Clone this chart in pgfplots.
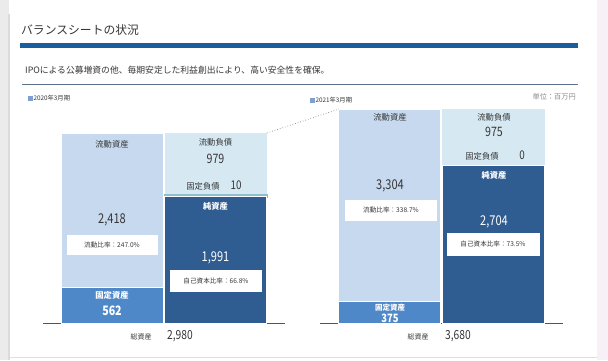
\documentclass[border=0pt]{standalone}
\usepackage{pgfplots}
\pgfplotsset{compat=1.18}
\usepackage{fontspec}
\setmainfont{Noto Sans CJK JP}
\newfontfamily\numfont{Noto Sans CJK JP}[FakeStretch=0.82]
\definecolor{cA}{HTML}{C6D9EF}
\definecolor{fA}{HTML}{4F88C9}
\definecolor{cL}{HTML}{D6E9F3}
\definecolor{fL}{HTML}{8DBFCF}
\definecolor{nA}{HTML}{2F5D91}
\definecolor{barC}{HTML}{1B5E9E}
\definecolor{txt}{HTML}{363636}
\definecolor{lineC}{HTML}{5A6F8A}
\definecolor{legC}{HTML}{7F9FD0}
\definecolor{baseC}{HTML}{555555}
\newcommand{\fs}[1]{\fontsize{#1bp}{#1bp}\selectfont}
\begin{document}
\begin{tikzpicture}[x=1bp,y=1bp]
\path[use as bounding box] (0,0) rectangle (608,360);
\fill[white] (0,0) rectangle (608,360);
\fill[black!8] (0,0) rectangle (9,360);
\fill[black!14] (8,0) rectangle (10,346);
\fill[violet!6] (597,0) rectangle (608,360);
\draw[black!12, line width=0.8bp] (10,3) -- (597,3);
% header
\node[anchor=west, text=txt, inner sep=0] at (21,330) {\fs{11.8}バランスシートの状況};
\fill[barC] (20,312.4) rectangle (578,316.6);
\node[anchor=west, text=txt, inner sep=0] at (25,290) {\fs{8.8}IPOによる公募増資の他、毎期安定した利益創出により、高い安全性を確保。};
\draw[lineC, line width=0.8bp] (22,276) -- (578,276);
\fill[legC] (28,259.5) rectangle (33,264.5);
\node[anchor=west, text=txt, inner sep=0] at (33.5,262) {\fs{6.3}2020年3月期};
\fill[legC] (310,257.5) rectangle (315,262.5);
\node[anchor=west, text=txt, inner sep=0] at (315.5,260) {\fs{6.3}2021年3月期};
\node[anchor=east, text=black!45, inner sep=0] at (576,263) {\fs{7.2}単位：百万円};
% 2020
\begin{axis}[at={(43bp,37bp)}, anchor=south west, scale only axis, width=242bp, height=190bp,
  xmin=-0.67, xmax=1.67, ymin=0, ymax=2980, hide axis, clip=false,
  ybar stacked, bar width=0.985]
\addplot[fill=fA, draw=white, line width=0.8bp] coordinates {(0,562) (1,0)};
\addplot[fill=cA, draw=white, line width=0.8bp] coordinates {(0,2418) (1,0)};
\addplot[fill=nA, draw=white, line width=0.8bp] coordinates {(0,0) (1,1991)};
\addplot[fill=fL, draw=fL, line width=3.5bp] coordinates {(0,0) (1,10)};
\addplot[fill=cL, draw=none] coordinates {(0,0) (1,979)};
\draw[baseC, line width=0.8bp] (rel axis cs:0,0) -- (rel axis cs:1,0);
\end{axis}
% 2021
\begin{axis}[at={(320bp,37bp)}, anchor=south west, scale only axis, width=243bp, height=214bp,
  xmin=-0.67, xmax=1.67, ymin=0, ymax=3680, hide axis, clip=false,
  ybar stacked, bar width=0.985]
\addplot[fill=fA, draw=white, line width=0.8bp] coordinates {(0,375) (1,0)};
\addplot[fill=cA, draw=white, line width=0.8bp] coordinates {(0,3304) (1,0)};
\addplot[fill=nA, draw=white, line width=0.8bp] coordinates {(0,0) (1,2704)};
\addplot[fill=fL, draw=white, line width=0.8bp] coordinates {(0,0) (1,0)};
\addplot[fill=cL, draw=none] coordinates {(0,0) (1,975)};
\draw[baseC, line width=0.8bp] (rel axis cs:0,0) -- (rel axis cs:1,0);
\end{axis}
\draw[black!45, dotted, line width=0.7bp] (267,227) -- (339,251);
% 2020 labels
\node[text=txt] at (112,216) {\fs{8.3}流動資産};
\node[text=txt] at (112,140) {\fs{13.5}\numfont 2,418};
\node[fill=white, text=txt, minimum width=91bp, minimum height=20bp, inner sep=0] at (112,115) {\fs{6.6}流動比率：247.0\%};
\node[text=white] at (112,65) {\fs{8.3}\bfseries 固定資産};
\node[text=white] at (112,49) {\fs{13}\numfont\bfseries 562};
\node[text=txt] at (215.5,218) {\fs{8.3}流動負債};
\node[text=txt] at (215.5,201) {\fs{13}\numfont 979};
\node[text=txt] at (203,174) {\fs{8.3}固定負債};
\node[text=txt] at (236,174.5) {\fs{12}\numfont 10};
\node[text=white] at (215.5,154) {\fs{8.3}\bfseries 純資産};
\node[text=white] at (215.5,102) {\fs{13.5}\numfont 1,991};
\node[fill=white, text=txt, minimum width=92bp, minimum height=22bp, inner sep=0] at (216,79) {\fs{6.6}自己資本比率：66.8\%};
\node[text=txt] at (141,23) {\fs{7}総資産};
\node[text=txt] at (180,24) {\fs{12.5}\numfont 2,980};
% 2021 labels
\node[text=txt] at (390,243) {\fs{8.3}流動資産};
\node[text=txt] at (390,174) {\fs{13.5}\numfont 3,304};
\node[fill=white, text=txt, minimum width=92bp, minimum height=21bp, inner sep=0] at (391,150) {\fs{6.6}流動比率：338.7\%};
\node[text=white] at (390,52.5) {\fs{7.5}\bfseries 固定資産};
\node[text=white] at (390,42) {\fs{11.5}\numfont\bfseries 375};
\node[text=txt] at (494,243) {\fs{8.3}流動負債};
\node[text=txt] at (494,228) {\fs{13}\numfont 975};
\node[text=txt] at (482,204) {\fs{8.3}固定負債};
\node[text=txt] at (522,205) {\fs{12}\numfont 0};
\node[text=white] at (494,185) {\fs{8.3}\bfseries 純資産};
\node[text=white] at (494,138) {\fs{13.5}\numfont 2,704};
\node[fill=white, text=txt, minimum width=93bp, minimum height=23bp, inner sep=0] at (493,116) {\fs{6.6}自己資本比率：73.5\%};
\node[text=txt] at (418,23) {\fs{7}総資産};
\node[text=txt] at (458,24) {\fs{12.5}\numfont 3,680};
\end{tikzpicture}
\end{document}
